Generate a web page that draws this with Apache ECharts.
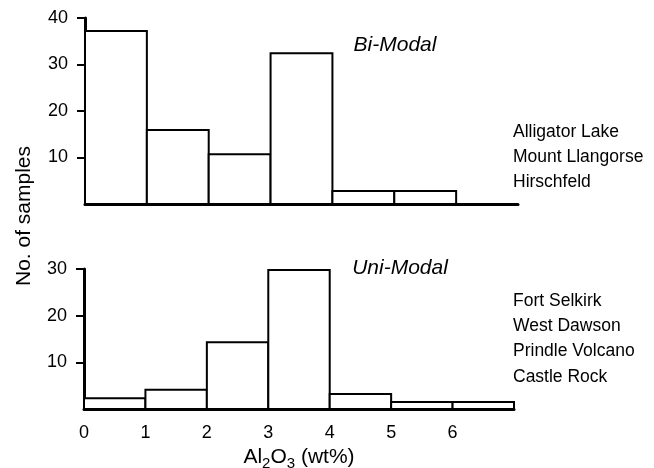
<!DOCTYPE html>
<html>
<head>
<meta charset="utf-8">
<script src="https://cdn.jsdelivr.net/npm/echarts@6/dist/echarts.min.js"></script>
<style>html,body{margin:0;padding:0;background:#fff}#c{width:654px;height:468px}</style>
</head>
<body>
<div id="c"></div>
<script>
// Bin left edges of Al2O3 (wt%) histogram, bin width 1
var binStarts = [0, 1, 2, 3, 4, 5, 6];
var biModal = [37.2, 15.9, 10.7, 32.4, 2.8, 2.8, null];
var uniModal = [2.3, 4.1, 14.3, 29.8, 3.2, 1.5, 1.5];
var xTicks = [0, 1, 2, 3, 4, 5, 6];
var biYTicks = [10, 20, 30, 40];
var uniYTicks = [10, 20, 30];
var biLabels = ['Alligator Lake', 'Mount Llangorse', 'Hirschfeld'];
var uniLabels = ['Fort Selkirk', 'West Dawson', 'Prindle Volcano', 'Castle Rock'];

var FONT = '"Liberation Sans", Arial, Helvetica, sans-serif';

function toData(vals) {
  var out = [];
  for (var i = 0; i < binStarts.length; i++) {
    if (vals[i] != null) out.push([binStarts[i], binStarts[i] + 1, vals[i]]);
  }
  return out;
}

function renderBin(params, api) {
  var p0 = api.coord([api.value(0), api.value(2)]);
  var p1 = api.coord([api.value(1), 0]);
  return {
    type: 'rect',
    shape: { x: p0[0], y: p0[1], width: p1[0] - p0[0], height: p1[1] - p0[1] },
    style: { fill: '#fff', stroke: '#000', lineWidth: 2 }
  };
}

var chart = echarts.init(document.getElementById('c'), null, { renderer: 'canvas' });

var axisLineStyle = { color: '#000', width: 3 };

function textLines(lines, x, y0, dy) {
  return lines.map(function (t, i) {
    return {
      type: 'text', x: x, y: y0 + i * dy,
      style: { text: t, font: '17.5px ' + FONT, fill: '#000', textVerticalAlign: 'middle' }
    };
  });
}

function yAxisDef(idx, max, ticks) {
  return {
    gridIndex: idx, type: 'value', min: 0, max: max, interval: 10,
    axisLine: { show: true, lineStyle: axisLineStyle },
    axisTick: { show: true, length: 8, customValues: ticks, lineStyle: { color: '#000', width: 2 } },
    splitLine: { show: false },
    axisLabel: {
      color: '#000', fontSize: 18, fontFamily: FONT, margin: 17, customValues: ticks,
      formatter: function (v) { return ticks.indexOf(v) >= 0 ? String(v) : ''; }
    }
  };
}

var option = {
  backgroundColor: '#fff',
  animation: false,
  grid: [
    { left: 85, top: 18, width: 433, height: 186, containLabel: false, outerBoundsMode: 'none' },
    { left: 84, top: 269, width: 430, height: 140, containLabel: false, outerBoundsMode: 'none' }
  ],
  xAxis: [
    {
      gridIndex: 0, type: 'value', min: 0, max: 7, interval: 1,
      axisLine: { show: true, lineStyle: axisLineStyle, onZero: false },
      axisTick: { show: false }, axisLabel: { show: false }, splitLine: { show: false }
    },
    {
      gridIndex: 1, type: 'value', min: 0, max: 7, interval: 1,
      axisLine: { show: true, lineStyle: axisLineStyle, onZero: false },
      axisTick: { show: false }, splitLine: { show: false },
      axisLabel: {
        show: true, margin: 15, color: '#000', fontSize: 18, fontFamily: FONT,
        formatter: function (v) { return xTicks.indexOf(v) >= 0 ? String(v) : ''; }
      },
      name: '{a|Al}{s|2}{a|O}{s|3}{a| (wt%)}',
      nameLocation: 'middle', nameGap: 35,
      nameTextStyle: {
        rich: {
          a: { fontSize: 21, fontFamily: FONT, color: '#000' },
          s: { fontSize: 15, fontFamily: FONT, color: '#000', padding: [12, 0, 0, 0] }
        }
      }
    }
  ],
  yAxis: [yAxisDef(0, 40, biYTicks), yAxisDef(1, 30, uniYTicks)],
  series: [
    {
      type: 'custom', xAxisIndex: 0, yAxisIndex: 0,
      renderItem: renderBin, data: toData(biModal),
      encode: { x: [0, 1], y: 2 }, z: 1
    },
    {
      type: 'custom', xAxisIndex: 1, yAxisIndex: 1,
      renderItem: renderBin, data: toData(uniModal),
      encode: { x: [0, 1], y: 2 }, z: 1
    }
  ],
  graphic: [
    {
      type: 'text', x: 24, y: 216, rotation: Math.PI / 2,
      style: { text: 'No. of samples', font: '21px ' + FONT, fill: '#000', textAlign: 'center', textVerticalAlign: 'middle' }
    },
    {
      type: 'text', x: 395, y: 45,
      style: { text: 'Bi-Modal', font: 'italic 21px ' + FONT, fill: '#000', textAlign: 'center', textVerticalAlign: 'middle' }
    },
    {
      type: 'text', x: 400, y: 268,
      style: { text: 'Uni-Modal', font: 'italic 21px ' + FONT, fill: '#000', textAlign: 'center', textVerticalAlign: 'middle' }
    }
  ].concat(textLines(biLabels, 513, 132, 25)).concat(textLines(uniLabels, 513, 301, 25.3))
};

chart.setOption(option);
</script>
</body>
</html>
